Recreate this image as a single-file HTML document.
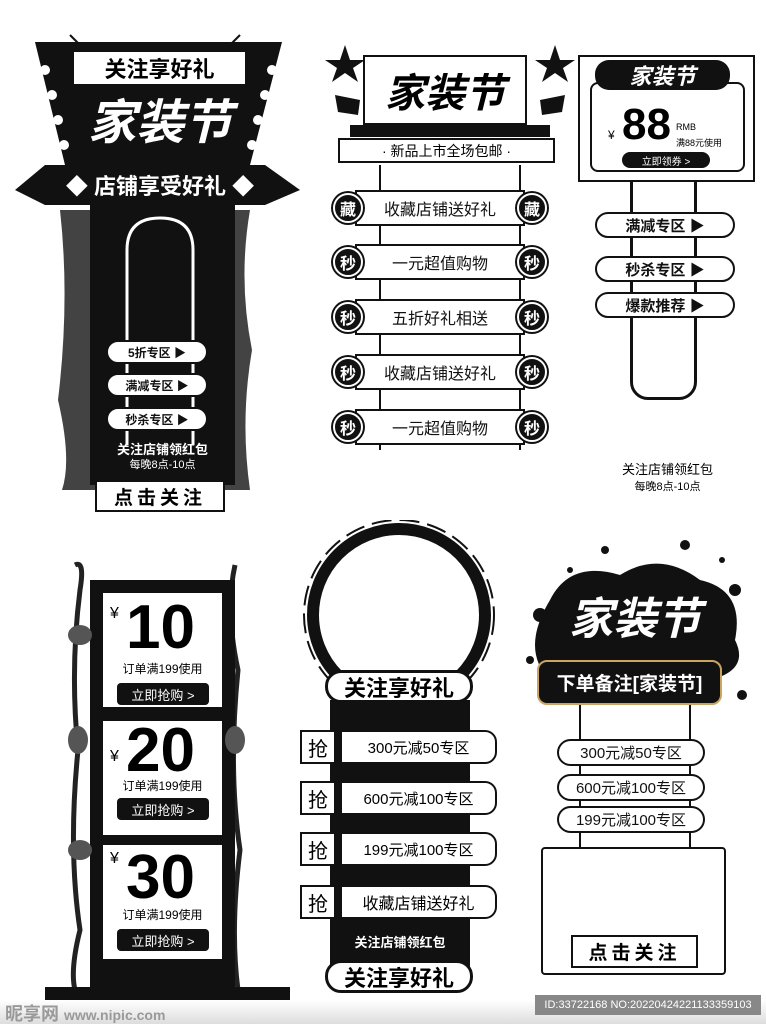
<!DOCTYPE html>
<html><head><meta charset="utf-8"><style>
body{margin:0;width:766px;height:1024px;background:#fff;position:relative;overflow:hidden;font-family:"Liberation Sans","Noto Sans CJK SC",sans-serif;}
.a{position:absolute;box-sizing:border-box}
.c{display:flex;align-items:center;justify-content:center}
.blk{background:#111}
.pill{border:2px solid #111;background:#fff;border-radius:14px;font-size:15px;color:#111}
.circ{width:30px;height:30px;border-radius:50%;background:#111;color:#fff;font-weight:bold;font-size:16px;border:2px solid #fff;box-shadow:0 0 0 2px #111}
.row{border:2px solid #111;background:#fff;font-size:16px;color:#111}
</style></head><body>

<!-- Panel 1 -->
<div class="a" style="left:0;top:0;width:310px;height:520px">
<svg class="a" style="left:0;top:0" width="310" height="520">
<polygon points="35,42 282,42 250,165 65,165" fill="#111"/>
<line x1="70" y1="35" x2="85" y2="50" stroke="#111" stroke-width="2"/><line x1="240" y1="35" x2="225" y2="50" stroke="#111" stroke-width="2"/>
<g fill="#fff"><circle cx="45" cy="70" r="5"/><circle cx="52" cy="95" r="5"/><circle cx="58" cy="120" r="5"/><circle cx="64" cy="145" r="5"/><circle cx="272" cy="70" r="5"/><circle cx="265" cy="95" r="5"/><circle cx="258" cy="120" r="5"/><circle cx="252" cy="145" r="5"/></g>
<polygon points="15,190 45,165 265,165 300,190 265,205 45,205" fill="#111"/>
<path d="M60,210 Q70,300 58,400 Q72,460 62,490 L250,490 Q240,420 252,350 Q238,280 250,210 Z" fill="#222" opacity="0.85"/>
<rect x="90" y="205" width="145" height="280" fill="#111"/>
<path d="M127,445 L127,250 Q127,218 160,218 Q193,218 193,250 L193,445" fill="none" stroke="#fff" stroke-width="3"/>
</svg>
<div class="a c" style="left:72px;top:50px;width:175px;height:36px;background:#fff;border:2px solid #111;font-size:22px;font-weight:bold">关注享好礼</div>
<div class="a c" style="left:60px;top:86px;width:200px;height:64px;color:#fff;font-size:48px;font-weight:bold;font-style:italic">家装节</div>
<div class="a c" style="left:50px;top:166px;width:220px;height:38px;color:#fff;font-size:22px;font-weight:bold">◆ 店铺享受好礼 ◆</div>
<div class="a c pill" style="left:106px;top:340px;width:102px;height:24px;font-size:12px;font-weight:bold">5折专区 ▶</div>
<div class="a c pill" style="left:106px;top:373px;width:102px;height:24px;font-size:12px;font-weight:bold">满减专区 ▶</div>
<div class="a c pill" style="left:106px;top:407px;width:102px;height:24px;font-size:12px;font-weight:bold">秒杀专区 ▶</div>
<div class="a c" style="left:90px;top:439px;width:145px;height:18px;color:#fff;font-size:13px;font-weight:bold">关注店铺领红包</div>
<div class="a c" style="left:90px;top:456px;width:145px;height:16px;color:#fff;font-size:11px">每晚8点-10点</div>
<div class="a c" style="left:95px;top:480px;width:130px;height:32px;background:#fff;border:2px solid #111;font-size:19px;font-weight:bold;letter-spacing:4px">点击关注</div>
</div>

<!-- Panel 2 -->
<svg class="a" style="left:320px;top:40px" width="260" height="420">
<g fill="#111"><polygon points="25,5 30,20 45,20 33,28 38,42 25,33 12,42 17,28 5,20 20,20"/><polygon points="235,5 240,20 255,20 243,28 248,42 235,33 222,42 227,28 215,20 230,20"/>
<polygon points="15,55 40,60 38,75 18,72"/><polygon points="245,55 220,60 222,75 242,72"/>
<rect x="30" y="85" width="200" height="12"/></g>
<g stroke="#111" stroke-width="2"><line x1="60" y1="125" x2="60" y2="410"/><line x1="200" y1="125" x2="200" y2="410"/></g>
</svg>
<div class="a c" style="left:363px;top:55px;width:164px;height:70px;background:#fff;border:2px solid #111;font-size:40px;font-weight:bold;font-style:italic">家装节</div>
<div class="a c" style="left:338px;top:138px;width:217px;height:25px;background:#fff;border:2px solid #111;font-size:14px">· 新品上市全场包邮 ·</div>
<div class="a c row" style="left:355px;top:190px;width:170px;height:36px">收藏店铺送好礼</div>
<div class="a c row" style="left:355px;top:244px;width:170px;height:36px">一元超值购物</div>
<div class="a c row" style="left:355px;top:299px;width:170px;height:36px">五折好礼相送</div>
<div class="a c row" style="left:355px;top:354px;width:170px;height:36px">收藏店铺送好礼</div>
<div class="a c row" style="left:355px;top:409px;width:170px;height:36px">一元超值购物</div>
<div class="a c circ" style="left:333px;top:193px">藏</div><div class="a c circ" style="left:517px;top:193px">藏</div>
<div class="a c circ" style="left:333px;top:247px">秒</div><div class="a c circ" style="left:517px;top:247px">秒</div>
<div class="a c circ" style="left:333px;top:302px">秒</div><div class="a c circ" style="left:517px;top:302px">秒</div>
<div class="a c circ" style="left:333px;top:357px">秒</div><div class="a c circ" style="left:517px;top:357px">秒</div>
<div class="a c circ" style="left:333px;top:412px">秒</div><div class="a c circ" style="left:517px;top:412px">秒</div>

<!-- Panel 3 -->
<div class="a" style="left:630px;top:175px;width:67px;height:225px;border:3px solid #111;border-radius:0 0 18px 18px"></div>
<div class="a" style="left:578px;top:55px;width:177px;height:127px;border:2px solid #111;background:#fff"></div>
<div class="a" style="left:590px;top:82px;width:155px;height:90px;border:2px solid #111;border-radius:8px;background:#fff"></div>
<div class="a c" style="left:595px;top:60px;width:135px;height:30px;background:#111;color:#fff;border-radius:14px;font-size:22px;font-weight:bold;font-style:italic">家装节</div>
<div class="a" style="left:608px;top:128px;font-size:12px">¥</div>
<div class="a" style="left:622px;top:100px;font-size:44px;font-weight:bold;line-height:50px">88</div>
<div class="a" style="left:676px;top:122px;font-size:9px">RMB</div>
<div class="a" style="left:676px;top:136px;font-size:9px">满88元使用</div>
<div class="a c" style="left:622px;top:152px;width:88px;height:16px;background:#111;color:#fff;border-radius:8px;font-size:10px">立即领券 &gt;</div>
<div class="a c pill" style="left:595px;top:212px;width:140px;height:26px;font-weight:bold">满减专区 ▶</div>
<div class="a c pill" style="left:595px;top:256px;width:140px;height:26px;font-weight:bold">秒杀专区 ▶</div>
<div class="a c pill" style="left:595px;top:292px;width:140px;height:26px;font-weight:bold">爆款推荐 ▶</div>
<div class="a c" style="left:600px;top:459px;width:135px;height:18px;font-size:13px">关注店铺领红包</div>
<div class="a c" style="left:600px;top:478px;width:135px;height:16px;font-size:11px">每晚8点-10点</div>

<!-- Panel 4 -->
<svg class="a" style="left:40px;top:550px" width="260" height="455">
<path d="M35,15 Q45,10 40,40 Q30,120 38,200 Q28,300 40,380 Q30,420 35,440" stroke="#222" stroke-width="5" fill="none"/>
<path d="M195,15 Q185,60 198,120 Q188,220 200,300 Q190,380 198,440" stroke="#222" stroke-width="5" fill="none"/>
<rect x="50" y="30" width="145" height="415" fill="#111"/>
<polygon points="5,437 250,437 250,452 5,452" fill="#111"/>
<g fill="#555"><ellipse cx="40" cy="85" rx="12" ry="10"/><ellipse cx="38" cy="190" rx="10" ry="14"/><ellipse cx="40" cy="300" rx="12" ry="10"/><ellipse cx="195" cy="190" rx="10" ry="14"/></g>
</svg>
<div class="a" style="left:100px;top:590px;width:125px;height:120px;background:#fff;border:3px solid #111;outline:2px solid #fff;outline-offset:-7px"></div>
<div class="a" style="left:100px;top:718px;width:125px;height:120px;background:#fff;border:3px solid #111"></div>
<div class="a" style="left:100px;top:842px;width:125px;height:120px;background:#fff;border:3px solid #111"></div>
<div class="a" style="left:110px;top:605px;font-size:16px">¥</div><div class="a" style="left:126px;top:595px;font-size:62px;font-weight:bold;line-height:66px">10</div>
<div class="a c" style="left:100px;top:660px;width:125px;font-size:12px">订单满199使用</div>
<div class="a c" style="left:117px;top:683px;width:92px;height:22px;background:#111;color:#fff;border-radius:4px;font-size:13px">立即抢购 &gt;</div>
<div class="a" style="left:110px;top:748px;font-size:16px">¥</div><div class="a" style="left:126px;top:718px;font-size:62px;font-weight:bold;line-height:66px">20</div>
<div class="a c" style="left:100px;top:777px;width:125px;font-size:12px">订单满199使用</div>
<div class="a c" style="left:117px;top:798px;width:92px;height:22px;background:#111;color:#fff;border-radius:4px;font-size:13px">立即抢购 &gt;</div>
<div class="a" style="left:110px;top:850px;font-size:16px">¥</div><div class="a" style="left:126px;top:845px;font-size:62px;font-weight:bold;line-height:66px">30</div>
<div class="a c" style="left:100px;top:906px;width:125px;font-size:12px">订单满199使用</div>
<div class="a c" style="left:117px;top:929px;width:92px;height:22px;background:#111;color:#fff;border-radius:4px;font-size:13px">立即抢购 &gt;</div>

<!-- Panel 5 -->
<svg class="a" style="left:295px;top:520px" width="210" height="480">
<circle cx="104" cy="95" r="86" fill="none" stroke="#111" stroke-width="12"/>
<circle cx="104" cy="95" r="95" fill="none" stroke="#111" stroke-width="2" stroke-dasharray="20 8"/>
<rect x="35" y="180" width="140" height="280" fill="#111"/>
</svg>
<div class="a c" style="left:325px;top:670px;width:148px;height:33px;background:#fff;border:3px solid #111;border-radius:16px;font-size:22px;font-weight:bold">关注享好礼</div>
<div class="a c" style="left:300px;top:730px;width:36px;height:34px;background:#fff;border:2px solid #111;font-size:20px">抢</div>
<div class="a c" style="left:340px;top:730px;width:157px;height:34px;background:#fff;border:2px solid #111;border-radius:0 12px 12px 0;font-size:15px">300元减50专区</div>
<div class="a c" style="left:300px;top:781px;width:36px;height:34px;background:#fff;border:2px solid #111;font-size:20px">抢</div>
<div class="a c" style="left:340px;top:781px;width:157px;height:34px;background:#fff;border:2px solid #111;border-radius:0 12px 12px 0;font-size:15px">600元减100专区</div>
<div class="a c" style="left:300px;top:832px;width:36px;height:34px;background:#fff;border:2px solid #111;font-size:20px">抢</div>
<div class="a c" style="left:340px;top:832px;width:157px;height:34px;background:#fff;border:2px solid #111;border-radius:0 12px 12px 0;font-size:15px">199元减100专区</div>
<div class="a c" style="left:300px;top:885px;width:36px;height:34px;background:#fff;border:2px solid #111;font-size:20px">抢</div>
<div class="a c" style="left:340px;top:885px;width:157px;height:34px;background:#fff;border:2px solid #111;border-radius:0 12px 12px 0;font-size:16px">收藏店铺送好礼</div>
<div class="a c" style="left:330px;top:930px;width:140px;height:22px;color:#fff;font-size:13px;font-weight:bold">关注店铺领红包</div>
<div class="a c" style="left:325px;top:960px;width:148px;height:33px;background:#fff;border:3px solid #111;border-radius:16px;font-size:22px;font-weight:bold">关注享好礼</div>

<!-- Panel 6 -->
<svg class="a" style="left:510px;top:520px" width="250" height="460">
<path d="M40,80 Q60,40 110,55 Q150,30 190,60 Q235,70 225,120 Q240,150 200,160 L40,160 Q10,130 40,80 Z" fill="#111"/>
<g fill="#111"><circle cx="30" cy="95" r="7"/><circle cx="225" cy="70" r="6"/><circle cx="95" cy="30" r="4"/><circle cx="175" cy="25" r="5"/><circle cx="232" cy="175" r="5"/><circle cx="20" cy="140" r="4"/><circle cx="60" cy="50" r="3"/><circle cx="212" cy="40" r="3"/></g>
<g stroke="#111" stroke-width="2"><line x1="70" y1="185" x2="70" y2="330"/><line x1="180" y1="185" x2="180" y2="330"/></g>
</svg>
<div class="a c" style="left:540px;top:585px;width:190px;height:60px;color:#fff;font-size:44px;font-weight:bold;font-style:italic">家装节</div>
<div class="a c" style="left:537px;top:660px;width:185px;height:45px;background:#111;color:#fff;border:2px solid #c9a560;border-radius:10px;font-size:19px;font-weight:bold">下单备注[家装节]</div>
<div class="a c pill" style="left:557px;top:739px;width:148px;height:27px">300元减50专区</div>
<div class="a c pill" style="left:557px;top:774px;width:148px;height:27px">600元减100专区</div>
<div class="a c pill" style="left:557px;top:806px;width:148px;height:27px">199元减100专区</div>
<div class="a" style="left:541px;top:847px;width:185px;height:128px;background:#fff;border:2px solid #111;border-radius:4px"></div>
<div class="a c" style="left:571px;top:935px;width:127px;height:33px;border:2px solid #111;font-size:19px;font-weight:bold;letter-spacing:4px;background:#fff">点击关注</div>

<!-- watermark -->
<div class="a" style="left:0;top:1000px;width:766px;height:24px;background:linear-gradient(#fff,#ddd)"></div>
<div class="a" style="left:5px;top:1000px;font-size:18px;color:#999;font-weight:bold">昵享网 <span style="font-size:14px">www.nipic.com</span></div>
<div class="a" style="left:535px;top:995px;width:226px;height:20px;background:#888;color:#fff;font-size:11px;display:flex;align-items:center;justify-content:center">ID:33722168 NO:20220424221133359103</div>
</body></html>
